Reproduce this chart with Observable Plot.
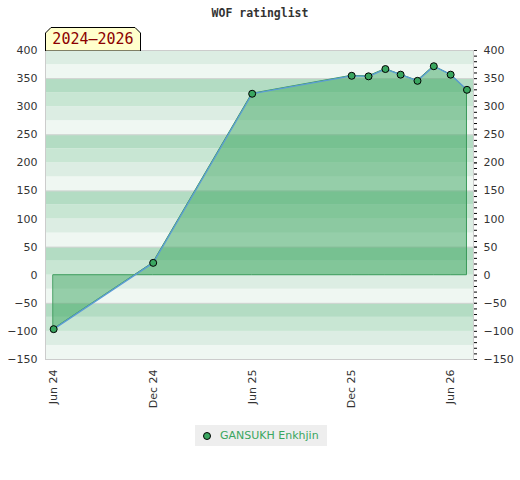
<!DOCTYPE html>
<html><head><meta charset="utf-8">
<script src="https://cdn.jsdelivr.net/npm/d3@7"></script>
<script src="https://cdn.jsdelivr.net/npm/@observablehq/plot@0.6"></script>
<style>
body{margin:0;background:#fff;font-family:"DejaVu Sans",sans-serif;}
#wrap{position:relative;width:520px;height:480px;overflow:hidden;}
#chart{position:absolute;left:0;top:0;}
#title{position:absolute;left:0;top:6px;width:520px;text-align:center;font:bold 11.5px "DejaVu Sans Mono",monospace;color:#333;}
#period{position:absolute;left:45px;top:27px;width:96px;height:24px;}
#period svg{position:absolute;left:0;top:0;}
#period span{position:absolute;left:0;top:3px;width:96px;text-align:center;font:15px "DejaVu Sans Mono",monospace;color:#8b0000;}
#legend{position:absolute;left:195px;top:425px;width:132px;height:21px;background:#eeeeee;font:11px "DejaVu Sans",sans-serif;color:#3aa660;}
#legend .dot{position:absolute;left:8px;top:7px;width:6px;height:6px;border-radius:50%;background:#3aa660;border:1px solid #000;}
#legend .lbl{position:absolute;left:25px;top:4px;white-space:nowrap;}
</style></head>
<body>
<div id="wrap">
  <div id="chart"></div>
  <div id="title"></div>
  <div id="period"><svg width="96" height="24"><polygon points="0.5,24 0.5,6 6,0.5 90,0.5 95.5,6 95.5,24" fill="#ffffcc" stroke="#000" stroke-width="1"/></svg><span></span></div>
  <div id="legend"><div class="dot"></div><div class="lbl"></div></div>
</div>
<script>
const titleText = "WOF ratinglist";
const periodText = "2024–2026";
const playerName = "GANSUKH Enkhjin";
const ratingDates = ["2024-06-01","2024-12-01","2025-06-01","2025-12-01","2026-01-01","2026-02-01","2026-03-01","2026-04-01","2026-05-01","2026-06-01","2026-07-01"];
const ratingValues = [-96, 22, 323, 355, 354, 367, 357, 346, 372, 357, 330];
const xTickDates = ["2024-06-01","2024-12-01","2025-06-01","2025-12-01","2026-06-01"];
const yTicks = [-150,-100,-50,0,50,100,150,200,250,300,350,400];
const bandColors = ["#eff7f2","#dcede3","#c8e6d3","#b3dcc3"];

document.getElementById("title").textContent = titleText;
document.querySelector("#period span").textContent = periodText;
document.querySelector("#legend .lbl").textContent = playerName;

const data = ratingDates.map((d,i)=>({date:new Date(d), value:ratingValues[i]}));
const bands = d3.range(-150, 400, 25).map((lo,i)=>({lo, hi:lo+25, color:bandColors[i%4]}));
const minorTicks = d3.range(-150, 401, 10);

const chart = Plot.plot({
  width:520, height:410,
  marginTop:50, marginBottom:51, marginLeft:45, marginRight:47,
  style:{fontSize:"11px", fontFamily:"DejaVu Sans, sans-serif", color:"#333", background:"transparent"},
  x:{type:"utc", domain:[new Date("2024-05-17"), new Date("2026-07-13")]},
  y:{domain:[-150,400]},
  marks:[
    Plot.rect(bands, {y1:"lo", y2:"hi", fill:"color"}),
    Plot.ruleY([-50,50,150,250,350], {stroke:"#d4d4d4", strokeWidth:1}),
    Plot.areaY(data, {x:"date", y1:0, y2:"value", fill:"#3ca55f", fillOpacity:0.5, stroke:"#3a9a5a", strokeWidth:1}),
    Plot.line(data, {x:"date", y:"value", stroke:"#5b9bd5", strokeWidth:1.3}),
    Plot.dot(data, {x:"date", y:"value", r:3.5, fill:"#3aa660", stroke:"#000", strokeWidth:1}),
    Plot.frame({stroke:"#cccccc"}),
    Plot.axisY({anchor:"left", ticks:yTicks, tickSize:0, tickPadding:8, label:null}),
    Plot.axisY({anchor:"right", ticks:minorTicks, tickSize:3, tickFormat:()=>"", label:null, stroke:"#000"}),
    Plot.axisY({anchor:"right", ticks:yTicks, tickSize:3, tickPadding:7, label:null}),
    Plot.axisX({ticks:xTickDates.map(d=>new Date(d)), tickFormat:d3.utcFormat("%b %y"), tickRotate:-90, tickSize:0, tickPadding:10, label:null})
  ]
});
document.getElementById("chart").appendChild(chart);
</script>
</body></html>
